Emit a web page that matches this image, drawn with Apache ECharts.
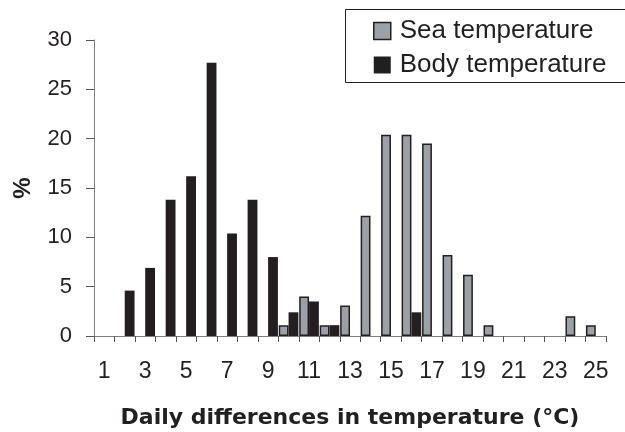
<!DOCTYPE html>
<html>
<head>
<meta charset="utf-8">
<script src="https://cdn.jsdelivr.net/npm/echarts@6/dist/echarts.min.js"></script>
<style>html,body{margin:0;padding:0;background:#fff}#c{width:625px;height:432px}</style>
</head>
<body>
<div id="c"></div>
<script>
const categories = ['1','2','3','4','5','6','7','8','9','10','11','12','13','14','15','16','17','18','19','20','21','22','23','24','25'];
const seaTemp = ['-','-','-','-','-','-','-','-','-',1.1,4.0,1.1,3.1,12.2,20.4,20.4,19.5,8.2,6.2,1.1,'-','-','-',2.0,1.1];
const bodyTemp = ['-',4.6,6.9,13.8,16.2,27.7,10.4,13.8,8.0,2.4,3.5,1.1,'-','-','-',2.4,'-','-','-','-','-','-','-','-','-'];
const yTicks = {min:0, max:30, interval:5};

const ink = '#231f20';
const chart = echarts.init(document.getElementById('c'), null, {renderer:'canvas'});
chart.setOption({
  animation:false,
  backgroundColor:'#fff',
  grid:{left:94, right:19, top:40, bottom:96, containLabel:false, outerBoundsMode:'none'},
  graphic:[{type:'rect', z:100, silent:true, shape:{x:345.5, y:9.5, width:300, height:73},
    style:{fill:'none', stroke:ink, lineWidth:1}}],
  legend:{
    orient:'vertical', left:345, top:11,
    padding:[7,0,7,28], itemGap:8,
    itemWidth:17, itemHeight:17,
    textStyle:{fontFamily:'Liberation Sans', fontSize:26, color:ink, padding:[0,0,0,4]},
    data:[
      {name:'Sea temperature', icon:'rect', itemStyle:{color:'#9ca1a7', borderColor:ink, borderWidth:1.5}},
      {name:'Body temperature', icon:'rect', itemStyle:{color:ink}}
    ]
  },
  xAxis:{
    type:'category', data:categories, boundaryGap:true,
    name:'Daily differences in temperature (°C)', nameLocation:'middle', nameGap:71,
    nameTextStyle:{fontFamily:'DejaVu Sans', fontWeight:'bold', fontSize:22, color:ink},
    axisLine:{show:true, lineStyle:{color:'#7f7f7f', width:1}},
    axisTick:{show:true, interval:0, alignWithLabel:false, length:6, lineStyle:{color:'#555'}},
    axisLabel:{interval:1, margin:24, fontFamily:'Liberation Sans', fontSize:23, color:ink},
    splitLine:{show:false}
  },
  yAxis:{
    type:'value', min:yTicks.min, max:yTicks.max, interval:yTicks.interval,
    name:'%', nameLocation:'middle', nameGap:59, nameRotate:90,
    nameTextStyle:{fontFamily:'Liberation Sans', fontWeight:'bold', fontSize:24, color:ink},
    axisLine:{show:true, lineStyle:{color:'#7f7f7f', width:1}},
    axisTick:{show:true, length:8, lineStyle:{color:'#555'}},
    axisLabel:{margin:22, fontFamily:'Liberation Sans', fontSize:22, color:ink},
    splitLine:{show:false}
  },
  series:[
    {name:'Sea temperature', type:'bar', data:seaTemp, barGap:'0%', barCategoryGap:'4%',
     itemStyle:{color:'#9ca1a7', borderColor:ink, borderWidth:1.5}},
    {name:'Body temperature', type:'bar', data:bodyTemp, barGap:'0%', barCategoryGap:'4%',
     itemStyle:{color:ink}}
  ]
});
</script>
</body>
</html>
